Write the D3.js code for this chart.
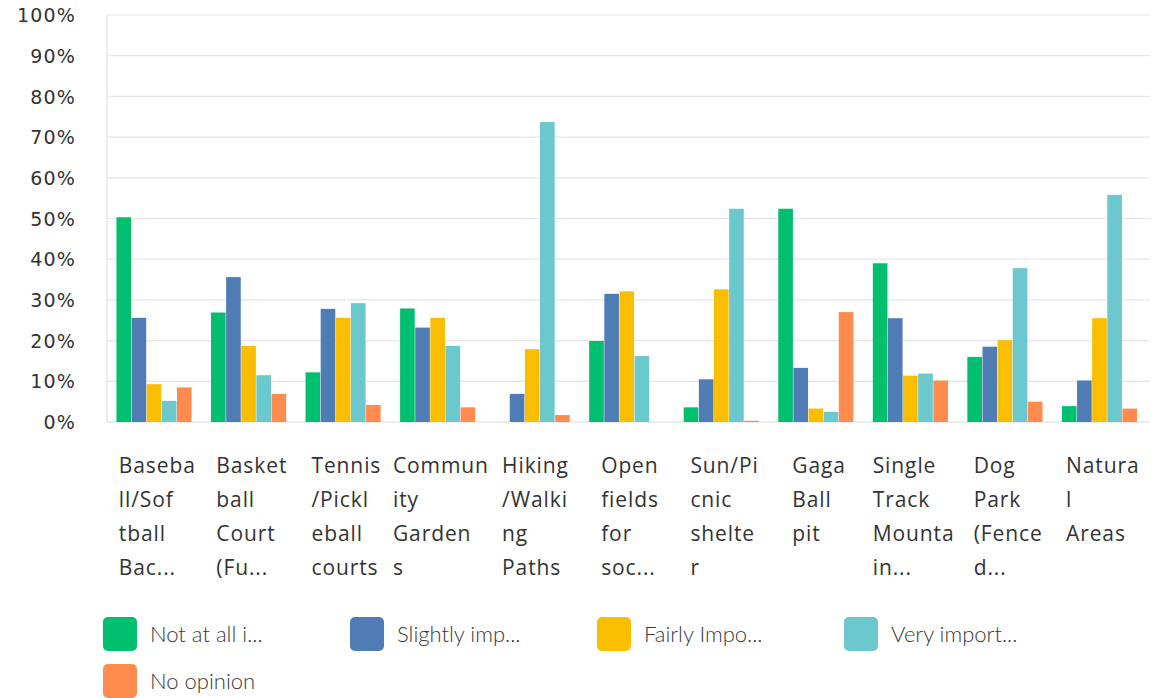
<!DOCTYPE html>
<html>
<head>
<meta charset="utf-8">
<script src="https://cdn.jsdelivr.net/npm/d3@7"></script>
<style>
  body { margin: 0; background: #fff; }
  svg { display: block; }
</style>
</head>
<body>
<script>
// chart size
const w = 1153;
const h = 698;

// categories, as they are wrapped under the axis
const labelLines = [
    ["Baseba", "ll/Sof", "tball", "Bac..."],
    ["Basket", "ball", "Court", "(Fu..."],
    ["Tennis", "/Pickl", "eball", "courts"],
    ["Commun", "ity", "Garden", "s"],
    ["Hiking", "/Walki", "ng", "Paths"],
    ["Open", "fields", "for", "soc..."],
    ["Sun/Pi", "cnic", "shelte", "r"],
    ["Gaga", "Ball", "pit"],
    ["Single", "Track", "Mounta", "in..."],
    ["Dog", "Park", "(Fence", "d..."],
    ["Natura", "l", "Areas"]
];
const categories = labelLines.map((d) => d.join(""));

// series names and colours
const seriesNames = ["Not at all i...", "Slightly imp...", "Fairly Impo...", "Very import...", "No opinion"];
const colors = ["#00bf6f", "#507cb6", "#f9be00", "#6bc8cd", "#ff8b4f"];

// values in %, one array per series
const notAtAll   = [50.3, 26.9, 12.2, 27.9, 0,    19.9, 3.6,  52.4, 39.0, 16.0, 3.9];
const slightly   = [25.6, 35.6, 27.8, 23.2, 6.9,  31.5, 10.5, 13.3, 25.5, 18.5, 10.2];
const fairly     = [9.3,  18.7, 25.6, 25.6, 17.9, 32.1, 32.6, 3.3,  11.4, 20.1, 25.5];
const very       = [5.2,  11.5, 29.2, 18.7, 73.7, 16.2, 52.4, 2.5,  11.9, 37.8, 55.8];
const noOpinion  = [8.5,  6.9,  4.2,  3.6,  1.7,  0,    0.3,  27.0, 10.2, 5.0,  3.3];
const series = [notAtAll, slightly, fairly, very, noOpinion];

const yTicks = [0, 10, 20, 30, 40, 50, 60, 70, 80, 90, 100];

const svg = d3.select("body")
            .append("svg")
                .attr("width", w)
                .attr("height", h);

// scales
const x0 = d3.scaleBand()
        .domain(categories)
        .range([107, 1147])
        .paddingInner(0.2)
        .paddingOuter(0.1);

const x1 = d3.scaleBand()
        .domain(d3.range(series.length))
        .range([0, x0.bandwidth()])
        .padding(0);

const y = d3.scaleLinear()
        .domain([0, 100])
        .range([422, 15]);

// gridlines
svg.append("g")
    .selectAll("line")
    .data(yTicks.filter((t) => t > 0))
    .enter()
    .append("line")
    .attr("x1", 107)
    .attr("x2", 1150)
    .attr("y1", (d) => y(d))
    .attr("y2", (d) => y(d))
    .attr("stroke", "#e6e6e6")
    .attr("stroke-width", 1.2);

// y axis labels
const yAxis = svg.append("g")
    .attr("transform", "translate(76,0)")
    .call(d3.axisLeft(y).tickValues(yTicks).tickFormat((d) => d + "%").tickSize(0).tickPadding(0));
yAxis.select(".domain").remove();
yAxis.selectAll("text")
    .attr("font-family", "'DejaVu Sans', sans-serif")
    .attr("font-size", 19)
    .attr("letter-spacing", 1.2)
    .attr("fill", "#333")
    .attr("dy", "0.35em");

// left axis line and baseline
svg.append("line")
    .attr("x1", 107).attr("x2", 107)
    .attr("y1", y(100)).attr("y2", y(0))
    .attr("stroke", "#d9d9d9");
svg.append("line")
    .attr("x1", 107).attr("x2", 1150)
    .attr("y1", y(0)).attr("y2", y(0))
    .attr("stroke", "#d9d9d9")
    .attr("stroke-width", 1.2);

// bars
const groups = svg.append("g")
    .selectAll("g")
    .data(categories)
    .enter()
    .append("g")
    .attr("transform", (d) => "translate(" + x0(d) + ",0)");

groups.selectAll("rect")
    .data((d, i) => series.map((s, k) => ({ k: k, v: s[i] })))
    .enter()
    .append("rect")
    .attr("x", (d) => x1(d.k))
    .attr("width", x1.bandwidth() - 0.5)
    .attr("y", (d) => y(d.v))
    .attr("height", (d) => y(0) - y(d.v))
    .attr("fill", (d) => colors[d.k]);

// category labels: left aligned lines, block centered on the group
const labels = svg.append("g")
    .selectAll("text")
    .data(labelLines)
    .enter()
    .append("text")
    .attr("font-family", "'Open Sans', sans-serif")
    .attr("font-size", 21)
    .attr("letter-spacing", 0.9)
    .attr("fill", "#333");

labels.each(function(lines, i) {
    const t = d3.select(this);
    lines.forEach((line, j) => {
        t.append("tspan")
            .attr("x", 0)
            .attr("y", 473 + j * 34)
            .text(line);
    });
    const bw = this.getBBox().width;
    const cx = x0(categories[i]) + x0.bandwidth() / 2 + 3;
    t.selectAll("tspan").attr("x", cx - bw / 2);
});

// legend
const legend = svg.append("g")
    .selectAll("g")
    .data(seriesNames)
    .enter()
    .append("g")
    .attr("transform", (d, i) => "translate(" + (103 + (i % 4) * 247) + "," + (617 + Math.floor(i / 4) * 47) + ")");

legend.append("rect")
    .attr("width", 34)
    .attr("height", 34)
    .attr("rx", 5)
    .attr("fill", (d, i) => colors[i]);

legend.append("text")
    .attr("x", 47)
    .attr("y", 17)
    .attr("dy", "0.35em")
    .attr("font-family", "Lato, sans-serif")
    .attr("font-weight", 300)
    .attr("font-size", 22)
    .attr("fill", "#3a3a3a")
    .text((d) => d);
</script>
</body>
</html>
